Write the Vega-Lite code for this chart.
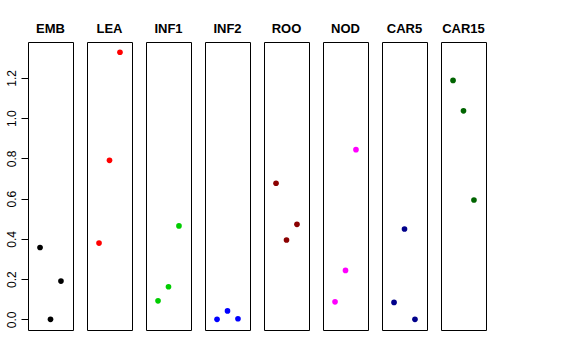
{
  "$schema": "https://vega.github.io/schema/vega-lite/v6.json",
  "padding": {"left": 5, "top": 23, "right": 5, "bottom": 5},
  "background": "white",
  "bounds": "flush",
  "data": {"values": [
    {"panel": "EMB", "idx": 1, "value": 0.357},
    {"panel": "EMB", "idx": 2, "value": 0.0},
    {"panel": "EMB", "idx": 3, "value": 0.19},
    {"panel": "LEA", "idx": 1, "value": 0.379},
    {"panel": "LEA", "idx": 2, "value": 0.79},
    {"panel": "LEA", "idx": 3, "value": 1.327},
    {"panel": "INF1", "idx": 1, "value": 0.092},
    {"panel": "INF1", "idx": 2, "value": 0.162},
    {"panel": "INF1", "idx": 3, "value": 0.464},
    {"panel": "INF2", "idx": 1, "value": 0.0},
    {"panel": "INF2", "idx": 2, "value": 0.042},
    {"panel": "INF2", "idx": 3, "value": 0.003},
    {"panel": "ROO", "idx": 1, "value": 0.676},
    {"panel": "ROO", "idx": 2, "value": 0.394},
    {"panel": "ROO", "idx": 3, "value": 0.472},
    {"panel": "NOD", "idx": 1, "value": 0.087},
    {"panel": "NOD", "idx": 2, "value": 0.243},
    {"panel": "NOD", "idx": 3, "value": 0.843},
    {"panel": "CAR5", "idx": 1, "value": 0.084},
    {"panel": "CAR5", "idx": 2, "value": 0.449},
    {"panel": "CAR5", "idx": 3, "value": 0.0},
    {"panel": "CAR15", "idx": 1, "value": 1.187},
    {"panel": "CAR15", "idx": 2, "value": 1.036},
    {"panel": "CAR15", "idx": 3, "value": 0.593}
  ]},
  "facet": {
    "column": {
      "field": "panel", "type": "nominal",
      "sort": ["EMB", "LEA", "INF1", "INF2", "ROO", "NOD", "CAR5", "CAR15"],
      "title": null,
      "header": {"labelFont": "Liberation Sans", "labelFontSize": 13, "labelFontWeight": "bold", "labelColor": "black", "labelPadding": 6}
    }
  },
  "spacing": 14,
  "spec": {
    "width": 45,
    "height": 288,
    "mark": {"type": "circle", "size": 32, "opacity": 1},
    "encoding": {
      "x": {"field": "idx", "type": "quantitative", "scale": {"domain": [-0.15, 4.15], "nice": false, "zero": false}, "axis": null},
      "y": {"field": "value", "type": "quantitative", "scale": {"domain": [-0.053, 1.378], "nice": false, "zero": false},
        "axis": {"title": null, "grid": false, "values": [0, 0.2, 0.4, 0.6, 0.8, 1.0, 1.2], "format": ".1f", "domain": false,
          "tickSize": 7, "tickColor": "black", "labelAngle": 270, "labelFont": "Liberation Sans", "labelFontSize": 12, "labelColor": "black", "labelPadding": 3}},
      "color": {"field": "panel", "type": "nominal",
        "scale": {"domain": ["EMB", "LEA", "INF1", "INF2", "ROO", "NOD", "CAR5", "CAR15"],
          "range": ["#000000", "#FF0000", "#00CD00", "#0000FF", "#8B0000", "#FF00FF", "#00008B", "#006400"]},
        "legend": null}
    }
  },
  "config": {"view": {"stroke": "black", "strokeWidth": 1}}
}
